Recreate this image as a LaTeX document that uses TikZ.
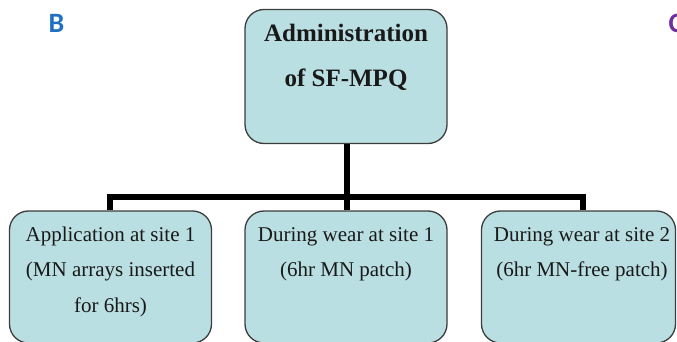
\documentclass[tikz,border=0pt]{standalone}
\usepackage{fontspec}
\setmainfont{Liberation Serif}
\newfontfamily\labelfont{Carlito}
\definecolor{boxfill}{RGB}{186,223,226}
\definecolor{boxline}{RGB}{60,60,60}
\definecolor{labelblue}{RGB}{31,112,193}
\definecolor{labelpurple}{RGB}{112,48,160}
\definecolor{txt}{RGB}{25,25,25}
\tikzset{
  box/.style={draw=boxline, fill=boxfill, line width=1.3pt, rounded corners=19pt, inner sep=0pt},
  topline/.style={anchor=base, inner sep=0pt, text=txt, font=\fontsize{25}{30}\selectfont\bfseries},
  botline/.style={anchor=base, inner sep=0pt, text=txt, font=\fontsize{21}{25}\selectfont},
  conn/.style={line width=5.5pt, black, line join=miter, line cap=butt},
  panel/.style={anchor=base, inner sep=0pt, font=\labelfont\fontsize{28}{32}\selectfont\bfseries}
}
\begin{document}
\begin{tikzpicture}[x=1pt,y=-1pt]
\useasboundingbox (0,0) rectangle (677,342);
\clip (0,0) rectangle (677,342);
% boxes
\node[box, minimum width=202pt, minimum height=134pt] (top) at (346,76.5) {};
\node[box, minimum width=202pt, minimum height=132pt] (left) at (110.5,277) {};
\node[box, minimum width=202pt, minimum height=132pt] (mid) at (346,277) {};
\node[box, minimum width=194pt, minimum height=132pt] (right) at (578.5,277) {};
% connectors
\coordinate (j) at (347,197);
\draw[conn] ([xshift=1pt]top.south) -- (j);
\draw[conn] ([xshift=1pt]mid.north) -- (j);
\draw[conn] ([xshift=-0.5pt]left.north) |- (j) -| ([xshift=4.5pt]right.north);
% texts
\node[topline] (t1) at (346,41.5) {Administration};
\node[topline] (t2) at (346,87) {of SF-MPQ};
\node[botline] (l1) at (110.5,241) {Application at site 1};
\node[botline] (l2) at (110.5,276.5) {(MN arrays inserted};
\node[botline] (l3) at (110.5,312) {for 6hrs)};
\node[botline] (m1) at (346,241) {During wear at site 1};
\node[botline] (m2) at (346,276.5) {(6hr MN patch)};
\node[botline] (r1) at (582,241) {During wear at site 2};
\node[botline] (r2) at (582,276.5) {(6hr MN-free patch)};
% panel labels
\node[panel, text=labelblue] (pb) at (56.5,33) {B};
\node[panel, text=labelpurple, anchor=base west] (pc) at (668.5,33) {C};
\end{tikzpicture}
\end{document}
